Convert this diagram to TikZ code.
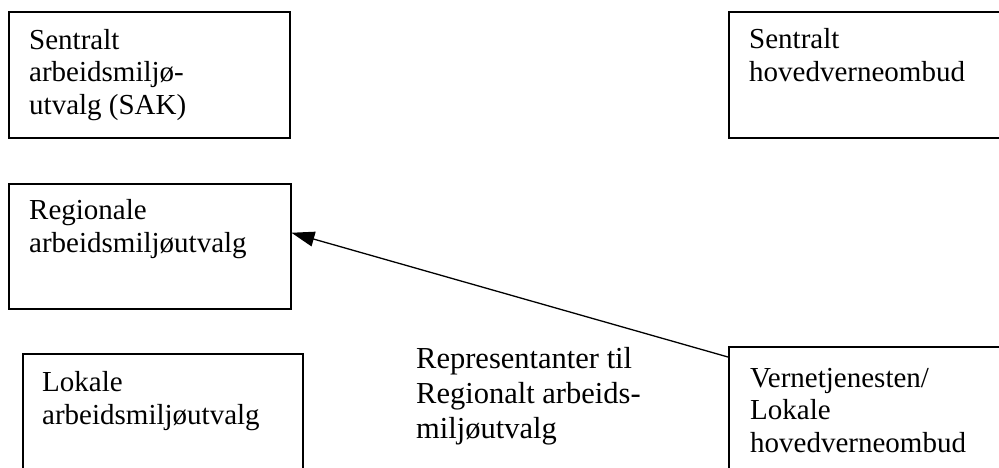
\documentclass[tikz,border=0pt]{standalone}
\usepackage{fontspec}
\setmainfont{Liberation Serif}
\usetikzlibrary{arrows.meta}
\begin{document}
\begin{tikzpicture}[x=1pt,y=-1pt,
  box/.style={draw=black, line width=1.5pt, rectangle, inner sep=0pt, anchor=north west},
  txt/.style={anchor=base west, inner sep=0pt, align=left, font=\fontsize{29}{32.5}\selectfont},
  bigtxt/.style={anchor=base west, inner sep=0pt, align=left, font=\fontsize{30.5}{35}\selectfont},
  conn/.style={line width=1.3pt, -{Triangle[length=23pt,width=15pt]}}]
\useasboundingbox (0,0) rectangle (999,467);
\fill[white] (0,0) rectangle (999,467);
\node[box, minimum width=281pt, minimum height=126pt] (sak) at (8,11) {};
\node[box, minimum width=290pt, minimum height=126pt] (shvo) at (728,11) {};
\node[box, minimum width=282pt, minimum height=125pt] (reg) at (8,183) {};
\node[box, minimum width=280pt, minimum height=130pt] (lok) at (22,353) {};
\node[box, minimum width=290pt, minimum height=135pt] (vern) at (728,346) {};
% base anchor = baseline of the last line
\node[txt] (tsak) at (29,114) {Sentralt\\arbeidsmiljø-\\utvalg (SAK)};
\node[txt] (tshvo) at (749,81) {Sentralt\\hovedverneombud};
\node[txt] (treg) at (29,252) {Regionale\\arbeidsmiljøutvalg};
\node[txt] (tlok) at (42,424) {Lokale\\arbeidsmiljøutvalg};
\node[txt] (tvern) at (750,452) {Vernetjenesten/\\Lokale\\hovedverneombud};
\node[bigtxt] (trep) at (416,438) {Representanter til\\Regionalt arbeids-\\miljøutvalg};
\coordinate (s) at ([yshift=-11pt]vern.north west);
\coordinate (t) at ([yshift=13.5pt]reg.east);
\draw[conn] (s) -- (t);
\end{tikzpicture}
\end{document}
